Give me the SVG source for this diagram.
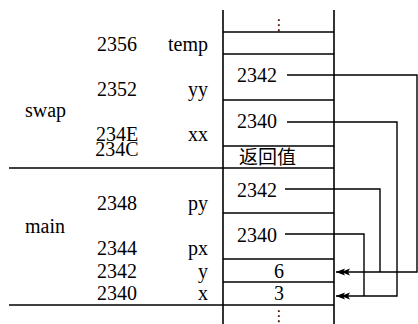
<svg xmlns="http://www.w3.org/2000/svg" width="418" height="324" viewBox="0 0 418 324">
<style>
.m{text-anchor:middle}
.e{text-anchor:end}
.ln{stroke:#000;stroke-width:1.6;fill:none}
.cn{stroke:#000;stroke-width:1.4;fill:none}
</style>
<defs>
<marker id="dbl" viewBox="0 0 16 8" refX="14" refY="4" markerWidth="16" markerHeight="8" markerUnits="userSpaceOnUse" orient="auto">
<path d="M14,4 L5,0.5 L7,4 L5,7.5 Z M9,4 L0,0.5 L2,4 L0,7.5 Z" fill="#000"/>
</marker>
</defs>
<g id="labels" font-family="Liberation Serif, Times New Roman, serif" font-size="20" fill="#000">
<text class="m" x="117" y="51">2356</text>
<text class="e" x="208" y="51">temp</text>
<text class="m" x="117" y="96">2352</text>
<text class="e" x="208" y="96">yy</text>
<text x="25" y="117">swap</text>
<text class="m" x="117" y="141">234E</text>
<text class="e" x="208" y="141">xx</text>
<text class="m" x="117" y="156">234C</text>
<text class="m" x="117" y="210">2348</text>
<text class="e" x="208" y="210">py</text>
<text x="25" y="233">main</text>
<text class="m" x="117" y="255">2344</text>
<text class="e" x="208" y="255">px</text>
<text class="m" x="117" y="278">2342</text>
<text class="e" x="208" y="278">y</text>
<text class="m" x="117" y="300">2340</text>
<text class="e" x="208" y="300">x</text>
</g>
<g id="stack">
<line class="ln" x1="223" y1="10" x2="223" y2="324"/>
<line class="ln" x1="334" y1="10" x2="334" y2="324"/>
<line class="ln" x1="223" y1="32" x2="334" y2="32"/>
<line class="ln" x1="223" y1="54" x2="334" y2="54"/>
<line class="ln" x1="223" y1="100" x2="334" y2="100"/>
<line class="ln" x1="223" y1="146" x2="334" y2="146"/>
<line class="ln" x1="9" y1="168" x2="334" y2="168"/>
<line class="ln" x1="223" y1="213" x2="334" y2="213"/>
<line class="ln" x1="223" y1="259" x2="334" y2="259"/>
<line class="ln" x1="223" y1="282" x2="334" y2="282"/>
<line class="ln" x1="9" y1="305" x2="334" y2="305"/>
</g>
<g id="cells" font-family="Liberation Serif, Times New Roman, serif" font-size="20" fill="#000">
<text class="m" x="279" y="30" font-family="DejaVu Sans, sans-serif" font-size="15">⋮</text>
<text x="237" y="82">2342</text>
<text x="237" y="128">2340</text>
<text x="239" y="164" font-family="Noto Sans CJK SC, sans-serif" font-size="19">返回值</text>
<text x="237" y="197">2342</text>
<text x="237" y="242">2340</text>
<text class="m" x="279" y="278">6</text>
<text class="m" x="279" y="300">3</text>
<text class="m" x="279" y="321" font-family="DejaVu Sans, sans-serif" font-size="15">⋮</text>
</g>
<g id="connectors">
<path class="cn" d="M287,75 H417 V272 H336" marker-end="url(#dbl)"/>
<path class="cn" d="M287,122 H397 V296 H336" marker-end="url(#dbl)"/>
<path class="cn" d="M285,189 H380 V272"/>
<path class="cn" d="M285,234 H364 V296"/>
</g>
</svg>
